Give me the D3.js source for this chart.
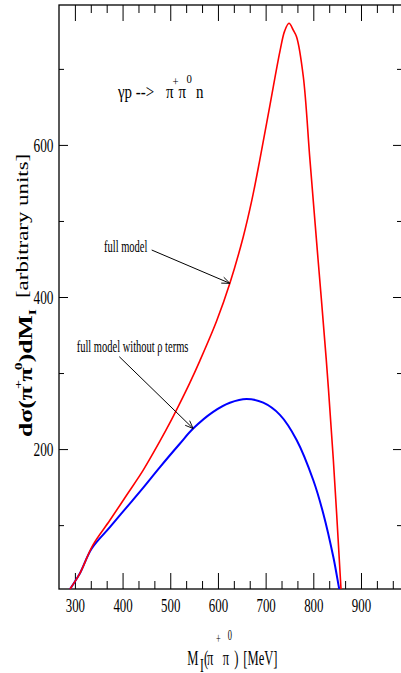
<!DOCTYPE html>
<html>
<head>
<meta charset="utf-8">
<script src="https://cdn.jsdelivr.net/npm/d3@7"></script>
<style>
  html, body { margin: 0; padding: 0; background: #fff; }
  svg { display: block; }
</style>
</head>
<body>
<script>
// Invariant mass M_I(pi+ pi0) in MeV and d sigma / dM_I (arbitrary units)
const massFull   = [275, 291, 310, 338, 373, 408, 443, 478, 503, 520, 541, 562, 597, 625, 653, 671, 688, 709, 730, 740, 749, 758, 765, 779, 793, 810, 827, 842, 858, 859.6];
const sigmaFull  = [0,   17,  36,  74,  106, 139, 172, 210, 239, 260, 287, 316, 368, 418, 479, 527, 581, 652, 723, 750, 760, 751, 742, 690, 580, 449, 319, 186, 17,  0];

const massNoRho  = [275, 291, 310, 335, 373, 408, 443, 478, 520, 548, 590, 625, 660, 695, 730, 765, 800, 821, 842, 854, 859];
const sigmaNoRho = [0,   17,  36,  69,  97,  123, 149, 176, 207, 227, 249, 261, 266, 261, 245, 212, 159, 115, 58,  17,  0];

const xTickValues = [300, 400, 500, 600, 700, 800, 900];
const yTickValues = [200, 400, 600];
const yMinorValues = [100, 300, 500, 700];
const xDomain = [266.67, 986];
const yDomain = [16, 784];

// arrow tips sit on the curves at these masses
const arrowFullMass = 625;
const arrowNoRhoMass = 548;

const W = 401, H = 673;
const plot = { left: 59, right: 402, top: 5, bottom: 589 };
const serif = "'Liberation Serif', 'Times New Roman', serif";

const svg = d3.select("body").append("svg")
  .attr("width", W).attr("height", H)
  .attr("viewBox", `0 0 ${W} ${H}`);

const x = d3.scaleLinear().domain(xDomain).range([plot.left, plot.right]);
const y = d3.scaleLinear().domain(yDomain).range([plot.bottom, plot.top]);

// minor x ticks: two between each pair of majors
const xMinorValues = [];
for (let m = 200; m <= 1000; m += 100) {
  [m + 100 / 3, m + 200 / 3].forEach(v => {
    if (v > xDomain[0] + 1 && v < xDomain[1]) xMinorValues.push(v);
  });
}

function styleAxis(g) {
  g.select(".domain").remove();
  g.selectAll(".tick line").attr("stroke", "#000").attr("stroke-width", 1);
}

// bottom axis
svg.append("g").attr("transform", `translate(0,${plot.bottom})`)
  .call(d3.axisBottom(x).tickValues(xMinorValues).tickSize(-8).tickFormat(""))
  .call(styleAxis);
const xAxisG = svg.append("g").attr("transform", `translate(0,${plot.bottom})`)
  .call(d3.axisBottom(x).tickValues(xTickValues).tickSize(-16).tickFormat(d3.format("d")))
  .call(styleAxis);
xAxisG.selectAll(".tick text")
  .attr("y", 0).attr("dy", 0)
  .attr("transform", "translate(0,23) scale(0.68,1)")
  .attr("font-family", serif).attr("font-size", 19).attr("fill", "#000");

// top axis
svg.append("g").attr("transform", `translate(0,${plot.top})`)
  .call(d3.axisTop(x).tickValues(xMinorValues).tickSize(-8).tickFormat(""))
  .call(styleAxis);
svg.append("g").attr("transform", `translate(0,${plot.top})`)
  .call(d3.axisTop(x).tickValues(xTickValues).tickSize(-16).tickFormat(""))
  .call(styleAxis);

// left axis
svg.append("g").attr("transform", `translate(${plot.left},0)`)
  .call(d3.axisLeft(y).tickValues(yMinorValues).tickSize(-5).tickFormat(""))
  .call(styleAxis);
const yAxisG = svg.append("g").attr("transform", `translate(${plot.left},0)`)
  .call(d3.axisLeft(y).tickValues(yTickValues).tickSize(-9).tickFormat(d3.format("d")))
  .call(styleAxis);
yAxisG.selectAll(".tick text")
  .attr("x", 0).attr("dy", 0)
  .attr("text-anchor", "end")
  .attr("transform", "translate(-5.5,6.8) scale(0.72,1)")
  .attr("font-family", serif).attr("font-size", 18.5).attr("fill", "#000");

// right axis
svg.append("g").attr("transform", `translate(${plot.right},0)`)
  .call(d3.axisRight(y).tickValues(yMinorValues).tickSize(-5).tickFormat(""))
  .call(styleAxis);
svg.append("g").attr("transform", `translate(${plot.right},0)`)
  .call(d3.axisRight(y).tickValues(yTickValues).tickSize(-9).tickFormat(""))
  .call(styleAxis);

// frame
svg.append("rect")
  .attr("x", plot.left).attr("y", plot.top)
  .attr("width", plot.right - plot.left).attr("height", plot.bottom - plot.top)
  .attr("fill", "none").attr("stroke", "#000").attr("stroke-width", 1.3);

// curves
svg.append("clipPath").attr("id", "plot-clip")
  .append("rect")
  .attr("x", plot.left).attr("y", plot.top)
  .attr("width", plot.right - plot.left).attr("height", plot.bottom - plot.top);

const line = d3.line()
  .x(d => x(d[0])).y(d => y(d[1]))
  .curve(d3.curveCatmullRom.alpha(0.5));

const curves = svg.append("g").attr("clip-path", "url(#plot-clip)");
curves.append("path")
  .datum(massNoRho.map((m, i) => [m, sigmaNoRho[i]]))
  .attr("d", line).attr("fill", "none")
  .attr("stroke", "#0000ff").attr("stroke-width", 2);
curves.append("path")
  .datum(massFull.map((m, i) => [m, sigmaFull[i]]))
  .attr("d", line).attr("fill", "none")
  .attr("stroke", "#ff0000").attr("stroke-width", 1.6);

// annotations
svg.append("defs").append("marker")
  .attr("id", "open-arrow")
  .attr("viewBox", "0 0 10 10")
  .attr("refX", 10).attr("refY", 5)
  .attr("markerWidth", 10).attr("markerHeight", 8)
  .attr("markerUnits", "userSpaceOnUse")
  .attr("orient", "auto")
  .append("path")
  .attr("d", "M0,1 L10,5 L0,9")
  .attr("fill", "none").attr("stroke", "#000").attr("stroke-width", 1.1);

function valueAt(ms, vs, m) {
  return d3.scaleLinear().domain(ms).range(vs)(m);
}

const arrows = [
  { from: [151.7, 250], mass: arrowFullMass, value: valueAt(massFull, sigmaFull, arrowFullMass) },
  { from: [119.3, 356.7], mass: arrowNoRhoMass, value: valueAt(massNoRho, sigmaNoRho, arrowNoRhoMass) }
];
arrows.forEach(a => {
  svg.append("line")
    .attr("x1", a.from[0]).attr("y1", a.from[1])
    .attr("x2", x(a.mass)).attr("y2", y(a.value))
    .attr("stroke", "#000").attr("stroke-width", 1)
    .attr("marker-end", "url(#open-arrow)");
});

function squeezed(txt, px, py, size, sx) {
  return svg.append("text")
    .attr("transform", `translate(${px},${py}) scale(${sx},1)`)
    .attr("font-family", serif).attr("font-size", size).attr("fill", "#000")
    .text(txt);
}
squeezed("full model", 104, 251.7, 16, 0.655);
squeezed("full model without \u03c1 terms", 76.7, 351.7, 16, 0.655);

// piecewise text inside a horizontally squeezed frame; pieces: [text, x, y, size]
function squeezedPieces(px, py, sx, baseSize, pieces) {
  const t = svg.append("text")
    .attr("transform", `translate(${px},${py}) scale(${sx},1)`)
    .attr("font-family", serif).attr("font-size", baseSize).attr("fill", "#000");
  pieces.forEach(([s, lx, ly, size]) => {
    t.append("tspan").attr("x", lx).attr("y", ly)
      .attr("font-size", size || baseSize).text(s);
  });
  return t;
}

// reaction title
squeezedPieces(118, 97.5, 0.83, 18, [
  ["\u03b3p -->", 0, 0],
  ["\u03c0", 57.8, 0],
  ["+", 65.7, -11.5, 13],
  ["\u03c0", 72.9, 0],
  ["0", 82.5, -14.5, 13],
  ["n", 94, 0]
]);

// x axis title
squeezedPieces(187.3, 665, 0.6, 21, [
  ["M", 0, 0],
  ["I", 21.2, 7, 19],
  ["(", 27.8, 0],
  ["\u03c0", 32.8, 0],
  ["+", 47.8, -22, 14],
  ["\u03c0", 59, 0],
  ["0", 67.3, -25, 14],
  [")", 78.3, 0],
  ["[MeV]", 93.3, 0]
]);

// y axis title, reading bottom to top
const yt = svg.append("g").attr("transform", "translate(32,437) rotate(-90)");
const yt1 = yt.append("text")
  .attr("transform", "scale(1.43,1)")
  .attr("font-family", serif).attr("font-weight", "bold")
  .attr("font-size", 18).attr("fill", "#000");
yt1.append("tspan").text("d\u03c3(\u03c0");
yt1.append("tspan").attr("dy", -10).attr("dx", -2).attr("font-size", 11).text("+");
yt1.append("tspan").attr("dy", 10).attr("dx", -1).text("\u03c0");
yt1.append("tspan").attr("dy", -10).attr("dx", -2).attr("font-size", 11).text("0");
yt1.append("tspan").attr("dy", 10).text(")dM");
yt1.append("tspan").attr("dy", 4).attr("font-size", 11).text("I");
yt.append("text")
  .attr("transform", "translate(139,-4) scale(1.43,1)")
  .attr("font-family", serif).attr("font-size", 16).attr("fill", "#000")
  .text("[arbitrary units]");
</script>
</body>
</html>
